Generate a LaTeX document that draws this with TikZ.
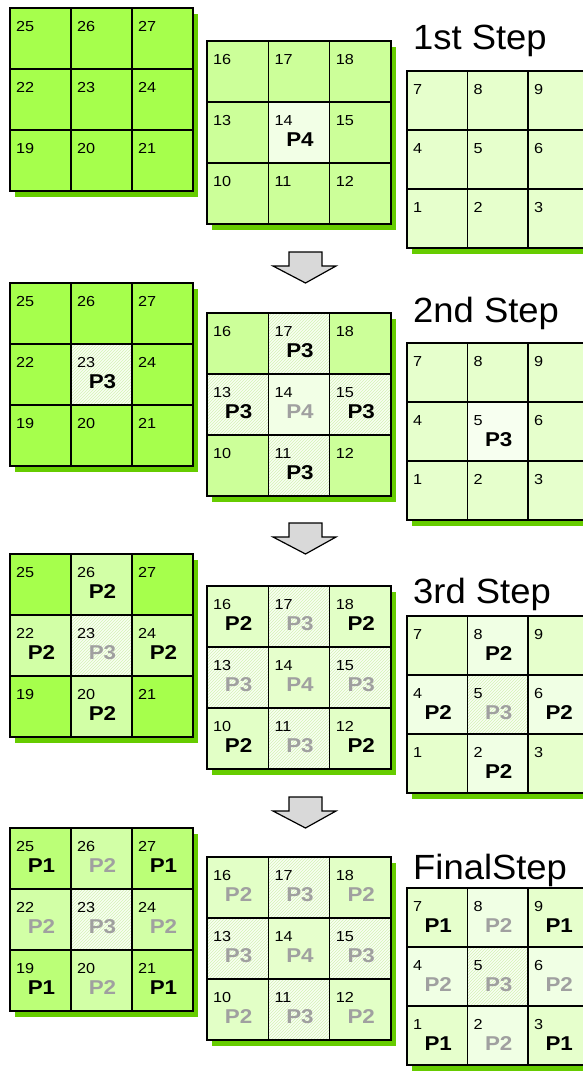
\documentclass[tikz,border=0pt]{standalone}
\usepackage{fontspec}
\setmainfont[FakeStretch=1.12]{Liberation Sans}
\newfontfamily\titlefont[FakeStretch=1.04]{Liberation Sans}
\usetikzlibrary{patterns,calc}
\definecolor{backg}{HTML}{A6FF4C}
\definecolor{midg}{HTML}{CCFF99}
\definecolor{frontg}{HTML}{E6FFCC}
\definecolor{shadowc}{HTML}{66CC00}
\definecolor{hatchfg}{HTML}{D4F2B6}
\definecolor{hatchbg}{HTML}{F8FFF2}
\definecolor{litb}{HTML}{D2FFA6}
\definecolor{litm}{HTML}{E2FFC6}
\definecolor{litf}{HTML}{F0FFE4}
\definecolor{pone}{HTML}{BBFF77}
\definecolor{paleC}{HTML}{F2FFE6}
\definecolor{whiteC}{HTML}{F7FFF0}
\definecolor{graylab}{HTML}{A0A0A0}
\definecolor{arrowgray}{HTML}{D9D9D9}
\tikzset{
  gridline/.style={draw=black, line width=1.6pt},
  cellbox/.style={gridline, inner sep=0pt, outer sep=0pt, anchor=north west},
  hatch/.style={preaction={fill=hatchbg}, pattern=north east lines, pattern color=hatchfg},
  numtext/.style={anchor=base west, inner sep=0pt, font=\fontsize{14.5}{16}\selectfont},
  plabel/.style={anchor=base, inner sep=0pt, font=\fontsize{20}{22}\selectfont\bfseries},
  titletext/.style={anchor=base west, inner sep=0pt, font=\titlefont\fontsize{35}{40}\selectfont},
  blockarrow/.style={fill=arrowgray, draw=black, line width=1.2pt, line join=miter}
}
% #1 step, #2 x, #3 y, #4 cell w, #5 cell h, #6 colour, #7 number offset
\newcommand{\Grid}[7]{%
  \fill[shadowc] (#2+5,#3+6) rectangle ++(3*#4,3*#5);
  \foreach \r in {0,1,2}{\foreach \c in {0,1,2}{%
    \pgfmathtruncatemacro{\n}{#7+(2-\r)*3+\c+1}%
    \node[cellbox, fill=#6, minimum width=#4pt, minimum height=#5pt] (c#1-\n) at (#2+\c*#4, #3+\r*#5) {};
  }}}
% #1 step, #2 number offset
\newcommand{\Nums}[2]{%
  \foreach \k in {1,...,9}{%
    \pgfmathtruncatemacro{\n}{#2+\k}%
    \node[numtext] (n#1-\n) at ($(c#1-\n.north west)+(6,23)$) {\n};
  }}
% #1 step, #2 cell, #3 fill style, #4 label, #5 label colour
\newcommand{\Spec}[5]{%
  \path[#3] (c#1-#2.north west) rectangle (c#1-#2.south east);
  \draw[gridline] (c#1-#2.north west) rectangle (c#1-#2.south east);
  \node[plabel, text=#5] (p#1-#2) at ($(c#1-#2.north)+(1,44)$) {#4};
}
\newcommand{\DownArrow}[1]{%
  \draw[blockarrow] (289,#1) -- (322,#1) -- (322,#1+14) -- (336,#1+14) -- (305.5,#1+31) -- (273,#1+14) -- (289,#1+14) -- cycle;
}
\begin{document}
\begin{tikzpicture}[x=1pt,y=-1pt]
\useasboundingbox (0,0) rectangle (583,1071);
\clip (0,0) rectangle (583,1071);
\fill[white] (0,0) rectangle (583,1071);

% ---------- Step 1 ----------
\Grid{1}{10}{8}{61}{61}{backg}{18}
\Grid{1}{207}{41}{61.3}{61}{midg}{9}
\Grid{1}{407}{71}{60.5}{59}{frontg}{0}
\Spec{1}{14}{fill=paleC}{P4}{black}
\Nums{1}{18}\Nums{1}{9}\Nums{1}{0}
\node[titletext] (title1) at (413,49) {1st Step};
\DownArrow{252}

% ---------- Step 2 ----------
\Grid{2}{10}{283}{61}{61}{backg}{18}
\Grid{2}{207}{313}{61.3}{61}{midg}{9}
\Grid{2}{407}{343}{60.5}{59}{frontg}{0}
\Spec{2}{23}{hatch}{P3}{black}
\Spec{2}{17}{hatch}{P3}{black}
\Spec{2}{13}{hatch}{P3}{black}
\Spec{2}{15}{hatch}{P3}{black}
\Spec{2}{11}{hatch}{P3}{black}
\Spec{2}{14}{fill=paleC}{P4}{graylab}
\Spec{2}{5}{fill=whiteC}{P3}{black}
\Nums{2}{18}\Nums{2}{9}\Nums{2}{0}
\node[titletext] (title2) at (413,322) {2nd Step};
\DownArrow{523}

% ---------- Step 3 ----------
\Grid{3}{10}{554}{61}{61}{backg}{18}
\Grid{3}{207}{586}{61.3}{61}{midg}{9}
\Grid{3}{407}{616}{60.5}{59}{frontg}{0}
\foreach \k in {26,22,24,20}{\Spec{3}{\k}{fill=litb}{P2}{black}}
\Spec{3}{23}{hatch}{P3}{graylab}
\foreach \k in {16,18,10,12}{\Spec{3}{\k}{fill=litm}{P2}{black}}
\foreach \k in {17,13,15,11}{\Spec{3}{\k}{hatch}{P3}{graylab}}
\Spec{3}{14}{fill=frontg}{P4}{graylab}
\foreach \k in {8,4,6,2}{\Spec{3}{\k}{fill=litf}{P2}{black}}
\Spec{3}{5}{hatch}{P3}{graylab}
\Nums{3}{18}\Nums{3}{9}\Nums{3}{0}
\node[titletext] (title3) at (413,603) {3rd Step};
\DownArrow{797}

% ---------- Final Step ----------
\Grid{4}{10}{828}{61}{61}{backg}{18}
\Grid{4}{207}{857}{61.3}{61}{midg}{9}
\Grid{4}{407}{888}{60.5}{59}{frontg}{0}
\foreach \k in {25,27,19,21}{\Spec{4}{\k}{fill=pone}{P1}{black}}
\foreach \k in {26,22,24,20}{\Spec{4}{\k}{fill=litb}{P2}{graylab}}
\Spec{4}{23}{hatch}{P3}{graylab}
\foreach \k in {16,18,10,12}{\Spec{4}{\k}{fill=litm}{P2}{graylab}}
\foreach \k in {17,13,15,11}{\Spec{4}{\k}{hatch}{P3}{graylab}}
\Spec{4}{14}{fill=frontg}{P4}{graylab}
\foreach \k in {7,9,1,3}{\Spec{4}{\k}{fill=frontg}{P1}{black}}
\foreach \k in {8,4,6,2}{\Spec{4}{\k}{fill=litf}{P2}{graylab}}
\Spec{4}{5}{hatch}{P3}{graylab}
\Nums{4}{18}\Nums{4}{9}\Nums{4}{0}
\node[titletext] (title4) at (413,879) {FinalStep};
\end{tikzpicture}
\end{document}
